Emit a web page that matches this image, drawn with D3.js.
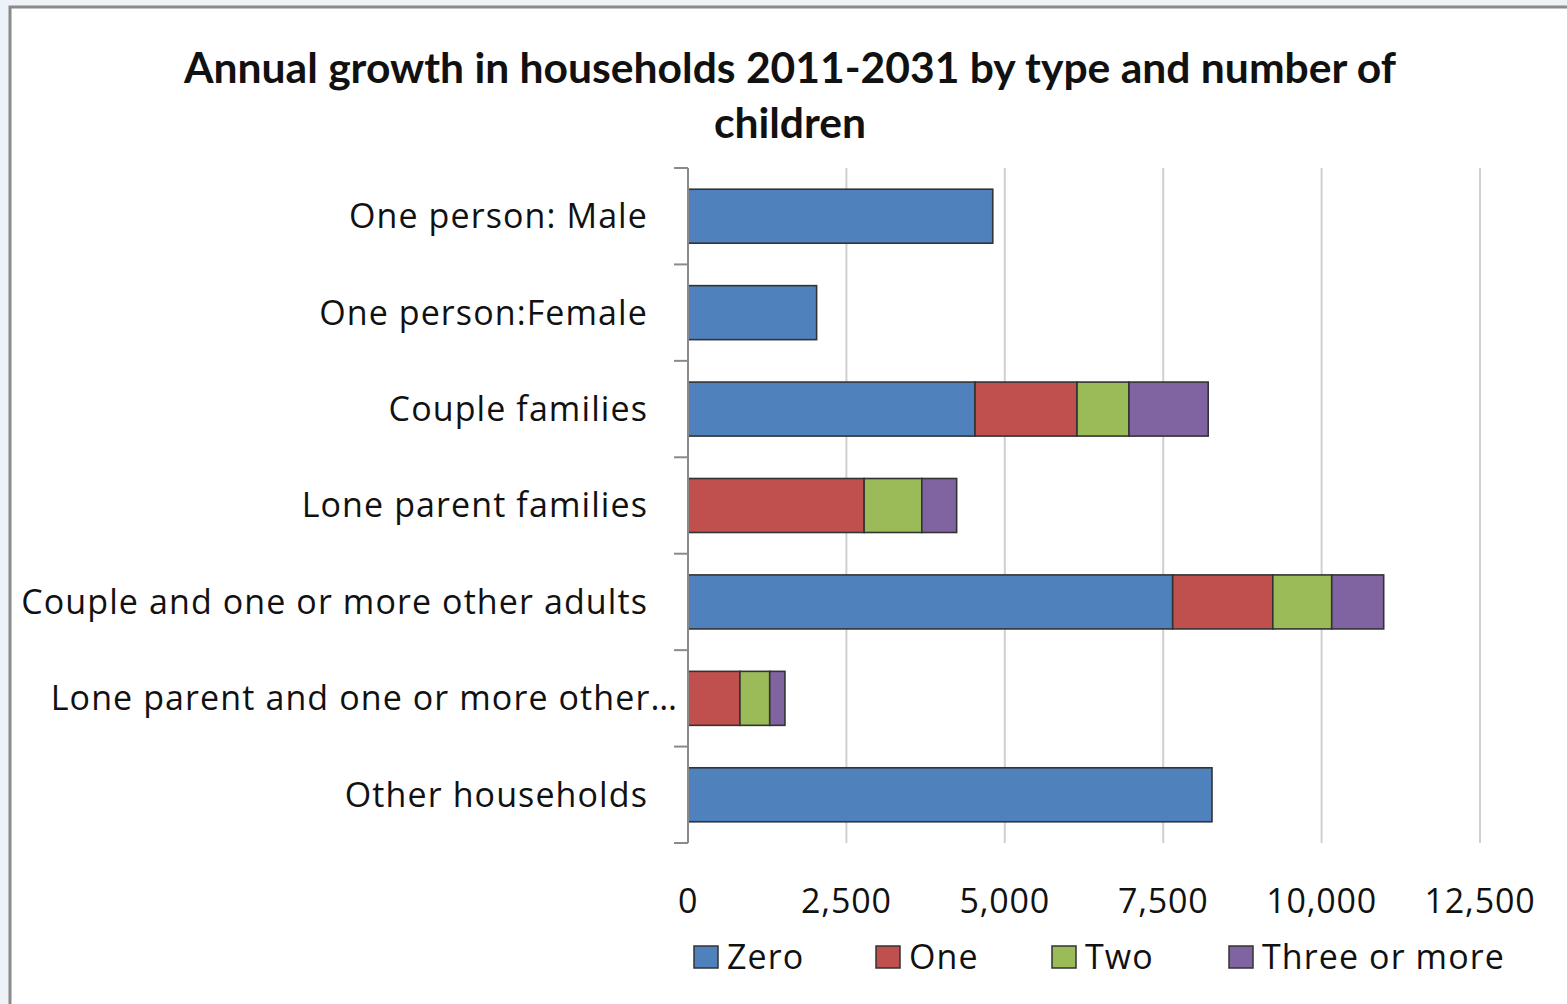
<!DOCTYPE html>
<html><head><meta charset="utf-8">
<script src="https://cdn.jsdelivr.net/npm/d3@7"></script>
<style>
html,body{margin:0;padding:0;background:#edf2f9;}
svg{display:block;font-family:"Open Sans",Lato,sans-serif;}
</style></head>
<body>
<svg id="chart" width="1567" height="1004"></svg>
<script>
const categories = ["One person: Male","One person:Female","Couple families","Lone parent families","Couple and one or more other adults","Lone parent and one or more other…","Other households"];
const seriesNames = ["Zero","One","Two","Three or more"];
const zeroVals  = [4810, 2030, 4530, 0,    7650, 0,   8270];
const oneVals   = [0,    0,    1610, 2780, 1580, 820, 0];
const twoVals   = [0,    0,    820,  910,  930,  470, 0];
const threeVals = [0,    0,    1250, 550,  820,  240, 0];
const xTicks = [0,2500,5000,7500,10000,12500];
const colors = ["#4f81bd","#c0504d","#9bbb59","#8064a2"];
const titleLines = ["Annual growth in households 2011-2031 by type and number of","children"];

const svg = d3.select("#chart");
svg.append("rect").attr("x",10).attr("y",7).attr("width",1567).attr("height",1010).attr("fill","#fff").attr("stroke","#8a8a8a").attr("stroke-width",3);

const x = d3.scaleLinear().domain([0,12500]).range([688,1480]);
const y = d3.scaleBand().domain(categories).range([168,843]).paddingInner(0.44).paddingOuter(0.22);

svg.append("g").selectAll("line").data(xTicks.slice(1)).join("line")
  .attr("x1",d=>x(d)).attr("x2",d=>x(d)).attr("y1",168).attr("y2",843)
  .attr("stroke","#d0d0d0").attr("stroke-width",2);

const rows = categories.map((c,i)=>({cat:c, Zero:zeroVals[i], One:oneVals[i], Two:twoVals[i], "Three or more":threeVals[i]}));
const stack = d3.stack().keys(seriesNames)(rows);
svg.append("g").selectAll("g").data(stack).join("g").attr("fill",(d,i)=>colors[i])
  .selectAll("rect").data(d=>d.filter(p=>p[1]-p[0]>0)).join("rect")
  .attr("x",d=>x(d[0])).attr("width",d=>x(d[1])-x(d[0]))
  .attr("y",d=>y(d.data.cat)).attr("height",y.bandwidth())
  .attr("stroke","#333").attr("stroke-width",1.6);

const yAxisG = svg.append("g");
yAxisG.append("line").attr("x1",688).attr("x2",688).attr("y1",168).attr("y2",843).attr("stroke","#8a8a8a").attr("stroke-width",2);
const boundaries = d3.range(categories.length+1).map(i=>168 + i*(843-168)/categories.length);
yAxisG.selectAll("line.tk").data(boundaries).join("line").attr("class","tk")
  .attr("x1",674).attr("x2",688).attr("y1",d=>d).attr("y2",d=>d).attr("stroke","#8a8a8a").attr("stroke-width",2);

const fs = 34, ls = 1.1;
yAxisG.selectAll("text").data(categories).join("text")
  .attr("x",(d,i)=> i===5 ? 678 : 648)
  .attr("y",d=>y(d)+y.bandwidth()/2)
  .attr("dy","0.35em").attr("text-anchor","end")
  .attr("font-size",fs).attr("letter-spacing",ls).attr("fill","#111").text(d=>d);

svg.append("g").selectAll("text").data(xTicks).join("text")
  .attr("x",d=>x(d)).attr("y",913).attr("text-anchor","middle")
  .attr("font-size",fs).attr("letter-spacing",0.8).attr("fill","#111").text(d=>d3.format(",")(d));

svg.append("g").selectAll("text").data(titleLines).join("text")
  .attr("x",790).attr("y",(d,i)=>83+i*55).attr("text-anchor","middle")
  .attr("font-family","Lato,sans-serif")
  .attr("font-size",42.6).attr("font-weight","bold").attr("fill","#111").text(d=>d);

const legX = [694,876,1052,1229];
const leg = svg.append("g").selectAll("g").data(seriesNames).join("g")
  .attr("transform",(d,i)=>`translate(${legX[i]},946)`);
leg.append("rect").attr("width",24).attr("height",22).attr("fill",(d,i)=>colors[i]).attr("stroke","#333").attr("stroke-width",1.5);
leg.append("text").attr("x",33).attr("y",11).attr("dy","0.36em").attr("font-size",fs).attr("letter-spacing",ls).attr("fill","#111").text(d=>d);
</script>
</body></html>
